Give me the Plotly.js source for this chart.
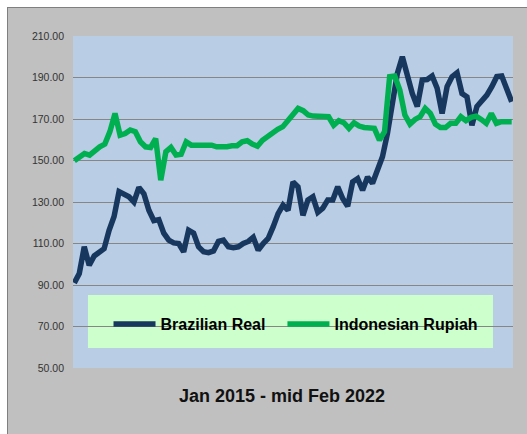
<!DOCTYPE html>
<html>
<head>
<meta charset="utf-8">
<script src="https://cdn.plot.ly/plotly-3.0.1.min.js"></script>
<style>
  html, body { margin: 0; padding: 0; background: #ffffff; }
  #wrap { position: relative; width: 527px; height: 434px; overflow: hidden; }
  #panel { position: absolute; left: 7px; top: 7px; width: 530px; height: 440px;
           background: #c0c0c0; border-left: 1px solid #7f7f7f; border-top: 1px solid #7f7f7f; }
  #chart { position: absolute; left: 0; top: 0; width: 527px; height: 434px; }
</style>
</head>
<body>
<div id="wrap">
  <div id="panel"></div>
  <div id="chart"></div>
</div>
<script>
// Period label
const periodLabel = "Jan 2015 - mid Feb 2022";

// Series names
const seriesNames = ["Brazilian Real", "Indonesian Rupiah"];

// Brazilian Real index values (Jan 2015 - mid Feb 2022)
const brazilianReal = [
  91, 95.5, 108.4, 99.5, 104, 106, 107.5, 116.4, 123, 135,
  134, 132.5, 130, 137, 134, 126, 121, 121.5, 115, 111.6,
  110.3, 110, 106, 116.4, 115, 108.4, 106, 105.6, 106.4, 111,
  111.6, 108.4, 108, 108.4, 110, 111, 113, 106.8, 110, 112.4,
  118, 124.4, 128.5, 126, 139.7, 137.3, 123.6, 131, 132.5, 125,
  127, 131, 131, 137.3, 131.7, 128, 139.7, 141.3, 135.7, 142,
  139, 144.6, 151.8, 163, 179, 192, 200, 190.4, 182.3, 176,
  188.8, 189, 190.7, 184.8, 172.7, 185.6, 190.4, 192.3, 182.3, 180.7,
  167, 176, 179, 181.5, 185.6, 190.4, 190.7, 184.8, 178.3
];

// Indonesian Rupiah index values (Jan 2015 - mid Feb 2022)
const indonesianRupiah = [
  149.9, 151.8, 153.4, 152.6, 154.7, 156.6, 157.9, 163.9, 172.7, 162.2,
  163, 164.7, 163.9, 159, 156.6, 156.3, 160.6, 140.5, 154.2, 156.3,
  152.6, 153, 159, 157.4, 157.4, 157.4, 157.4, 157.4, 156.6, 156.3,
  156.6, 157.1, 157.1, 159, 159.5, 157.9, 156.9, 159.8, 161.8, 163,
  165, 166.3, 169.5, 171.9, 175.1, 174, 171.9, 171.4, 171.4, 171.4,
  171.1, 167, 169.2, 168.2, 165.5, 168.2, 166.6, 165.9, 165.9, 165.5,
  159.8, 163.9, 190.4, 190.7, 184, 171.9, 167.5, 169.8, 171.1, 175.1,
  172.7, 167.5, 165.9, 165.9, 167.9, 167.9, 171.1, 169.2, 170.8, 171.4,
  169.8, 167.9, 172.7, 167.9, 168.7, 168.7, 168.7
];

// Y axis ticks
const yTicks = [50, 70, 90, 110, 130, 150, 170, 190, 210];
const yTickLabels = ["50.00", "70.00", "90.00", "110.00", "130.00", "150.00", "170.00", "190.00", "210.00"];

// position each observation evenly across the period (0 = Jan 2015, 1 = mid Feb 2022)
function spread(arr) { return arr.map((_, i) => i / (arr.length - 1)); }

const traces = [
  { x: spread(brazilianReal), y: brazilianReal, name: seriesNames[0], type: "scatter", mode: "lines",
    legend: "legend", line: { color: "#17375e", width: 5.5, shape: "linear" } },
  { x: spread(indonesianRupiah), y: indonesianRupiah, name: seriesNames[1], type: "scatter", mode: "lines",
    legend: "legend2", line: { color: "#00b050", width: 5.5, shape: "linear" } }
];

const legendFont = { family: "Liberation Sans, Arial, sans-serif", size: 16, color: "#000000", weight: "bold" };

const layout = {
  width: 527, height: 434,
  margin: { l: 73, r: 14, t: 36, b: 66, pad: 0 },
  paper_bgcolor: "rgba(0,0,0,0)",
  plot_bgcolor: "#b9cde5",
  font: { family: "Liberation Sans, Arial, sans-serif", color: "#000000" },
  showlegend: true,
  legend: {
    orientation: "h", x: 0.0807, xanchor: "left", y: 0.1325, yanchor: "middle",
    bgcolor: "rgba(0,0,0,0)", borderwidth: 0, itemwidth: 42, font: legendFont
  },
  legend2: {
    orientation: "h", x: 0.476, xanchor: "left", y: 0.1325, yanchor: "middle",
    bgcolor: "rgba(0,0,0,0)", borderwidth: 0, itemwidth: 42, font: legendFont
  },
  xaxis: {
    range: [-0.003, 1.003], showgrid: false, zeroline: false, showline: false,
    showticklabels: false, ticks: "", fixedrange: true
  },
  yaxis: {
    range: [50, 210], tickvals: yTicks, ticktext: yTickLabels,
    showgrid: true, gridcolor: "#868686", gridwidth: 1, zeroline: false, showline: false,
    ticks: "", ticklabelstandoff: 8,
    tickfont: { family: "Liberation Sans, Arial, sans-serif", size: 10.5, color: "#333333" },
    fixedrange: true
  },
  shapes: [
    { type: "rect", xref: "paper", yref: "paper", x0: 0.034, x1: 0.9545, y0: 0.06, y1: 0.22,
      fillcolor: "#ccffcc", line: { width: 0 }, layer: "between" }
  ],
  annotations: [
    { text: periodLabel, xref: "paper", yref: "paper", x: 0.475, y: -0.084,
      xanchor: "center", yanchor: "middle", showarrow: false,
      font: { family: "Liberation Sans, Arial, sans-serif", size: 18, color: "#111111", weight: "bold" } }
  ]
};

Plotly.newPlot("chart", traces, layout, { displayModeBar: false, staticPlot: true });
</script>
</body>
</html>
